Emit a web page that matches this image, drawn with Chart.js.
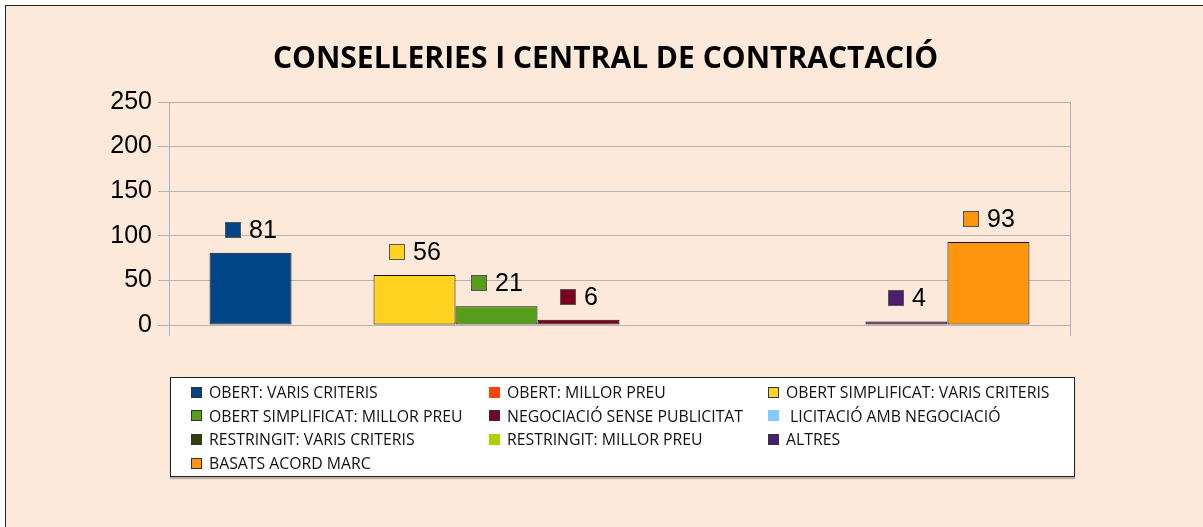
<!DOCTYPE html>
<html>
<head>
<meta charset="utf-8">
<script src="https://cdn.jsdelivr.net/npm/chart.js@4.4.1/dist/chart.umd.min.js"></script>
<style>
  html, body { margin: 0; padding: 0; background: #fff; }
  #frame {
    position: absolute; left: 5px; top: 5px; width: 1198px; height: 522px;
    background: #fde9d9; border-top: 1.5px solid #222; border-left: 1.5px solid #222;
  }
  #grafic { position: absolute; left: 0; top: 0; }
  #llegenda {
    position: absolute; left: 170px; top: 377px; width: 903px; height: 98px;
    background: #fff; border: 1px solid #222; box-shadow: 0 2px 1px rgba(0,0,0,0.25);
    font-family: "Open Sans", sans-serif; font-size: 15.8px; color: #111;
  }
  .item { position: absolute; display: flex; align-items: center; white-space: pre; }
  .item span.q { width: 9px; height: 9px; margin-right: 7px; box-sizing: content-box; }
</style>
</head>
<body>
<div id="frame"></div>
<canvas id="grafic" width="1203" height="527"></canvas>
<div id="llegenda"></div>
<script>
console.log("grafic conselleries carregat!");

// Dades del gràfic
const titol = 'CONSELLERIES I CENTRAL DE CONTRACTACIÓ';
const categories = [''];
const series = [
  'OBERT: VARIS CRITERIS',
  'OBERT: MILLOR PREU',
  'OBERT SIMPLIFICAT: VARIS CRITERIS',
  'OBERT SIMPLIFICAT: MILLOR PREU',
  'NEGOCIACIÓ SENSE PUBLICITAT',
  ' LICITACIÓ AMB NEGOCIACIÓ',
  'RESTRINGIT: VARIS CRITERIS',
  'RESTRINGIT: MILLOR PREU',
  'ALTRES',
  'BASATS ACORD MARC'
];
const valors = [81, 0, 56, 21, 6, 0, 0, 0, 4, 93];
const colors = ['#004586', '#ff420e', '#ffd320', '#579d1c', '#7e0021',
                '#83caff', '#314004', '#aecf00', '#4b1f6f', '#ff950e'];
const ambVora = [true, false, true, true, true, false, true, false, true, true];
const ticksY = [0, 50, 100, 150, 200, 250];

// etiquetes de valor amb quadret de color
const etiquetes = {
  id: 'etiquetes',
  afterDatasetsDraw(chart) {
    const ctx = chart.ctx;
    ctx.save();
    ctx.font = '25px "Liberation Sans", Arial, sans-serif';
    ctx.textBaseline = 'middle';
    chart.data.datasets.forEach((ds, i) => {
      const v = ds.data[0];
      if (!v) return;
      const bar = chart.getDatasetMeta(i).data[0];
      const txt = String(v);
      const w = ctx.measureText(txt).width;
      const total = 16 + 8 + w;
      const x0 = Math.round(bar.x - total / 2);
      const cy = Math.round(bar.y - 23);
      ctx.fillStyle = ds.backgroundColor;
      ctx.fillRect(x0, cy - 8, 16, 16);
      ctx.strokeStyle = '#555';
      ctx.lineWidth = 1;
      ctx.strokeRect(x0 + 0.5, cy - 7.5, 15, 15);
      ctx.fillStyle = '#000';
      ctx.fillText(txt, x0 + 24, cy + 1);
    });
    ctx.restore();
  }
};

const ctx = document.getElementById('grafic').getContext('2d');
new Chart(ctx, {
  type: 'bar',
  data: {
    labels: categories,
    datasets: series.map((nom, i) => ({
      label: nom,
      data: [valors[i]],
      backgroundColor: colors[i],
      borderColor: '#111',
      borderWidth: valors[i] ? 1 : 0,
      borderSkipped: false,
      categoryPercentage: 0.91,
      barPercentage: 1
    }))
  },
  options: {
    responsive: false,
    animation: false,
    layout: { padding: { left: 8, right: 0, top: 6, bottom: 190 } },
    plugins: {
      legend: { display: false },
      tooltip: { enabled: false },
      title: {
        display: true,
        text: titol,
        color: '#000',
        font: { family: '"Open Sans", sans-serif', size: 30, weight: 'bold' },
        padding: { top: 35, bottom: 25 }
      }
    },
    scales: {
      x: {
        ticks: { display: false },
        grid: { color: '#b3b3b3', tickLength: 11, offset: true },
        border: { color: '#b3b3b3' },
        afterFit(scale) { scale.height = 12; }
      },
      y: {
        min: 0,
        max: 250,
        afterBuildTicks(scale) { scale.ticks = ticksY.map(v => ({ value: v })); },
        ticks: {
          color: '#000',
          padding: 6,
          font: { family: '"Liberation Sans", Arial, sans-serif', size: 25 }
        },
        grid: { color: '#b3b3b3', tickLength: 11 },
        border: { color: '#b3b3b3' },
        afterFit(scale) { scale.width = 161; }
      },
      // eix buit a la dreta, només per deixar el marge
      dreta: {
        position: 'right',
        min: 0,
        max: 1,
        ticks: { display: false },
        grid: { display: false },
        border: { display: false },
        afterFit(scale) { scale.width = 133; }
      }
    }
  },
  plugins: [etiquetes]
});

// llegenda en tres columnes
const llegenda = document.getElementById('llegenda');
const colX = [20, 318, 597];
series.forEach((nom, i) => {
  const el = document.createElement('div');
  el.className = 'item';
  el.style.left = colX[i % 3] + 'px';
  el.style.top = (3 + Math.floor(i / 3) * 23.7) + 'px';
  const q = document.createElement('span');
  q.className = 'q';
  q.style.background = colors[i];
  q.style.border = ambVora[i] ? '1px solid #333' : '1px solid ' + colors[i];
  el.appendChild(q);
  el.appendChild(document.createTextNode(nom));
  llegenda.appendChild(el);
});
</script>
</body>
</html>
